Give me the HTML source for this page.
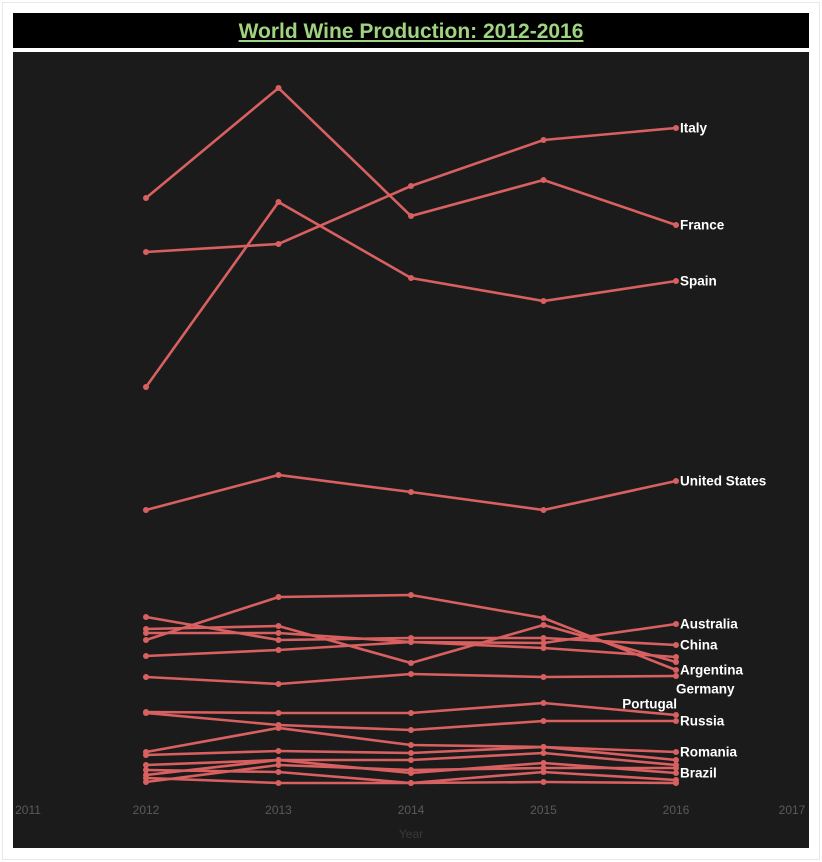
<!DOCTYPE html>
<html><head><meta charset="utf-8"><style>
body{margin:0;background:#fff;width:822px;height:862px;overflow:hidden;font-family:"Liberation Sans",sans-serif}
#outer{position:absolute;left:2px;top:2px;width:816px;height:856px;border:1px solid #e8e8e8}
#title{position:absolute;left:13px;top:13px;width:796px;height:35px;background:#000;text-align:center;line-height:37px}
#title span{color:#9fd37f;font-weight:bold;font-size:21px;text-decoration:underline}
svg{position:absolute;left:13px;top:52px}
</style></head><body>
<div id="outer"></div>
<div id="title"><span>World Wine Production: 2012-2016</span></div>
<svg id="chart" width="796" height="796"></svg>
<script>
const years=[2012,2013,2014,2015,2016];
const tickYears=[2011,2012,2013,2014,2015,2016,2017];
const countries=["Italy","France","Spain","United States","Argentina","Australia","Chile","South Africa","China","Germany","Portugal","Russia","Romania","Other 1","Brazil","Other 2","Other 3","Other 4","Other 5"];
const italy=[53.8,54.6,60.4,65,66.2];
const france=[59.2,70.2,57.4,61,56.5];
const spain=[40.3,58.8,51.2,48.9,50.9];
const usa=[28,31.5,29.8,28,30.9];
const argentina=[15,19.3,19.5,17.2,12];
const australia=[15.7,15.7,14.8,14.7,16.6];
const chile=[16.1,16.4,12.7,16.5,12.8];
const southAfrica=[13.4,14,14.8,14.2,13.3];
const china=[17.3,15,15.2,15.2,14.5];
const germany=[11.3,10.6,11.6,11.3,11.4];
const portugal=[7.8,7.7,7.7,8.7,7.5];
const russia=[7.7,6.5,6,6.9,6.9];
const romania=[3.8,6.2,4.5,4.3,3.8];
const other1=[3.5,3.9,3.7,4.3,3];
const brazil=[2.5,3,1.7,2.7,1.7];
const other2=[2,1.8,0.7,1.8,1];
const other3=[1.2,0.7,0.7,0.8,0.7];
const other4=[1.5,3,3,3.7,2.5];
const other5=[0.8,2.5,2,2.2,2.2];
const series=[italy,france,spain,usa,argentina,australia,chile,southAfrica,china,germany,portugal,russia,romania,other1,brazil,other2,other3,other4,other5];
const labels={"Italy":[0,0,"start"],"France":[0,0,"start"],"Spain":[0,0,"start"],"United States":[0,0,"start"],"Australia":[0,0,"start"],"China":[0,0,"start"],"Argentina":[0,0,"start"],"Germany":[-4,13,"start"],"Portugal":[-3,-11,"end"],"Russia":[0,0,"start"],"Romania":[0,0,"start"],"Brazil":[0,0,"start"]};
const NS="http://www.w3.org/2000/svg";
const svg=document.getElementById('chart');
const x=y=>133+(y-2012)*132.5;
const tx=y=>Math.min(779,Math.max(15,x(y)));
const yv=v=>738-v*10;
function mk(t,a){const e=document.createElementNS(NS,t);for(const k in a)e.setAttribute(k,a[k]);svg.appendChild(e);return e;}
mk('rect',{x:0,y:0,width:796,height:796,fill:'#1b1b1b'});
tickYears.forEach(t=>{const e=mk('text',{x:tx(t),y:762,'text-anchor':'middle','font-size':12,fill:'#5a5a5a'});e.textContent=t;

});
const yt=mk('text',{x:x(2014),y:786,'text-anchor':'middle','font-size':12,fill:'#3a3a3a'});yt.textContent='Year';


series.forEach((s,i)=>{
 const g=mk('g',{});
 
 
 const pl=document.createElementNS(NS,'polyline');
 pl.setAttribute('points',s.map((v,j)=>x(years[j])+','+yv(v)).join(' '));
 pl.setAttribute('fill','none');pl.setAttribute('stroke','#d86060');pl.setAttribute('stroke-width','2.6');
 
 
 g.appendChild(pl);
 s.forEach((v,j)=>{const c=document.createElementNS(NS,'circle');c.setAttribute('cx',x(years[j]));c.setAttribute('cy',yv(v));c.setAttribute('r',3);c.setAttribute('fill','#d86060');
 
 
 g.appendChild(c);});
 const L=labels[countries[i]];
 if(L){const t=document.createElementNS(NS,'text');t.setAttribute('x',x(2016)+4+L[0]);t.setAttribute('y',yv(s[4])+4.5+L[1]);t.setAttribute('text-anchor',L[2]);t.setAttribute('font-size',13.5);t.setAttribute('font-weight','bold');t.setAttribute('fill','#fff');t.textContent=countries[i];
 
 
 g.appendChild(t);}
});
</script>
</body></html>
